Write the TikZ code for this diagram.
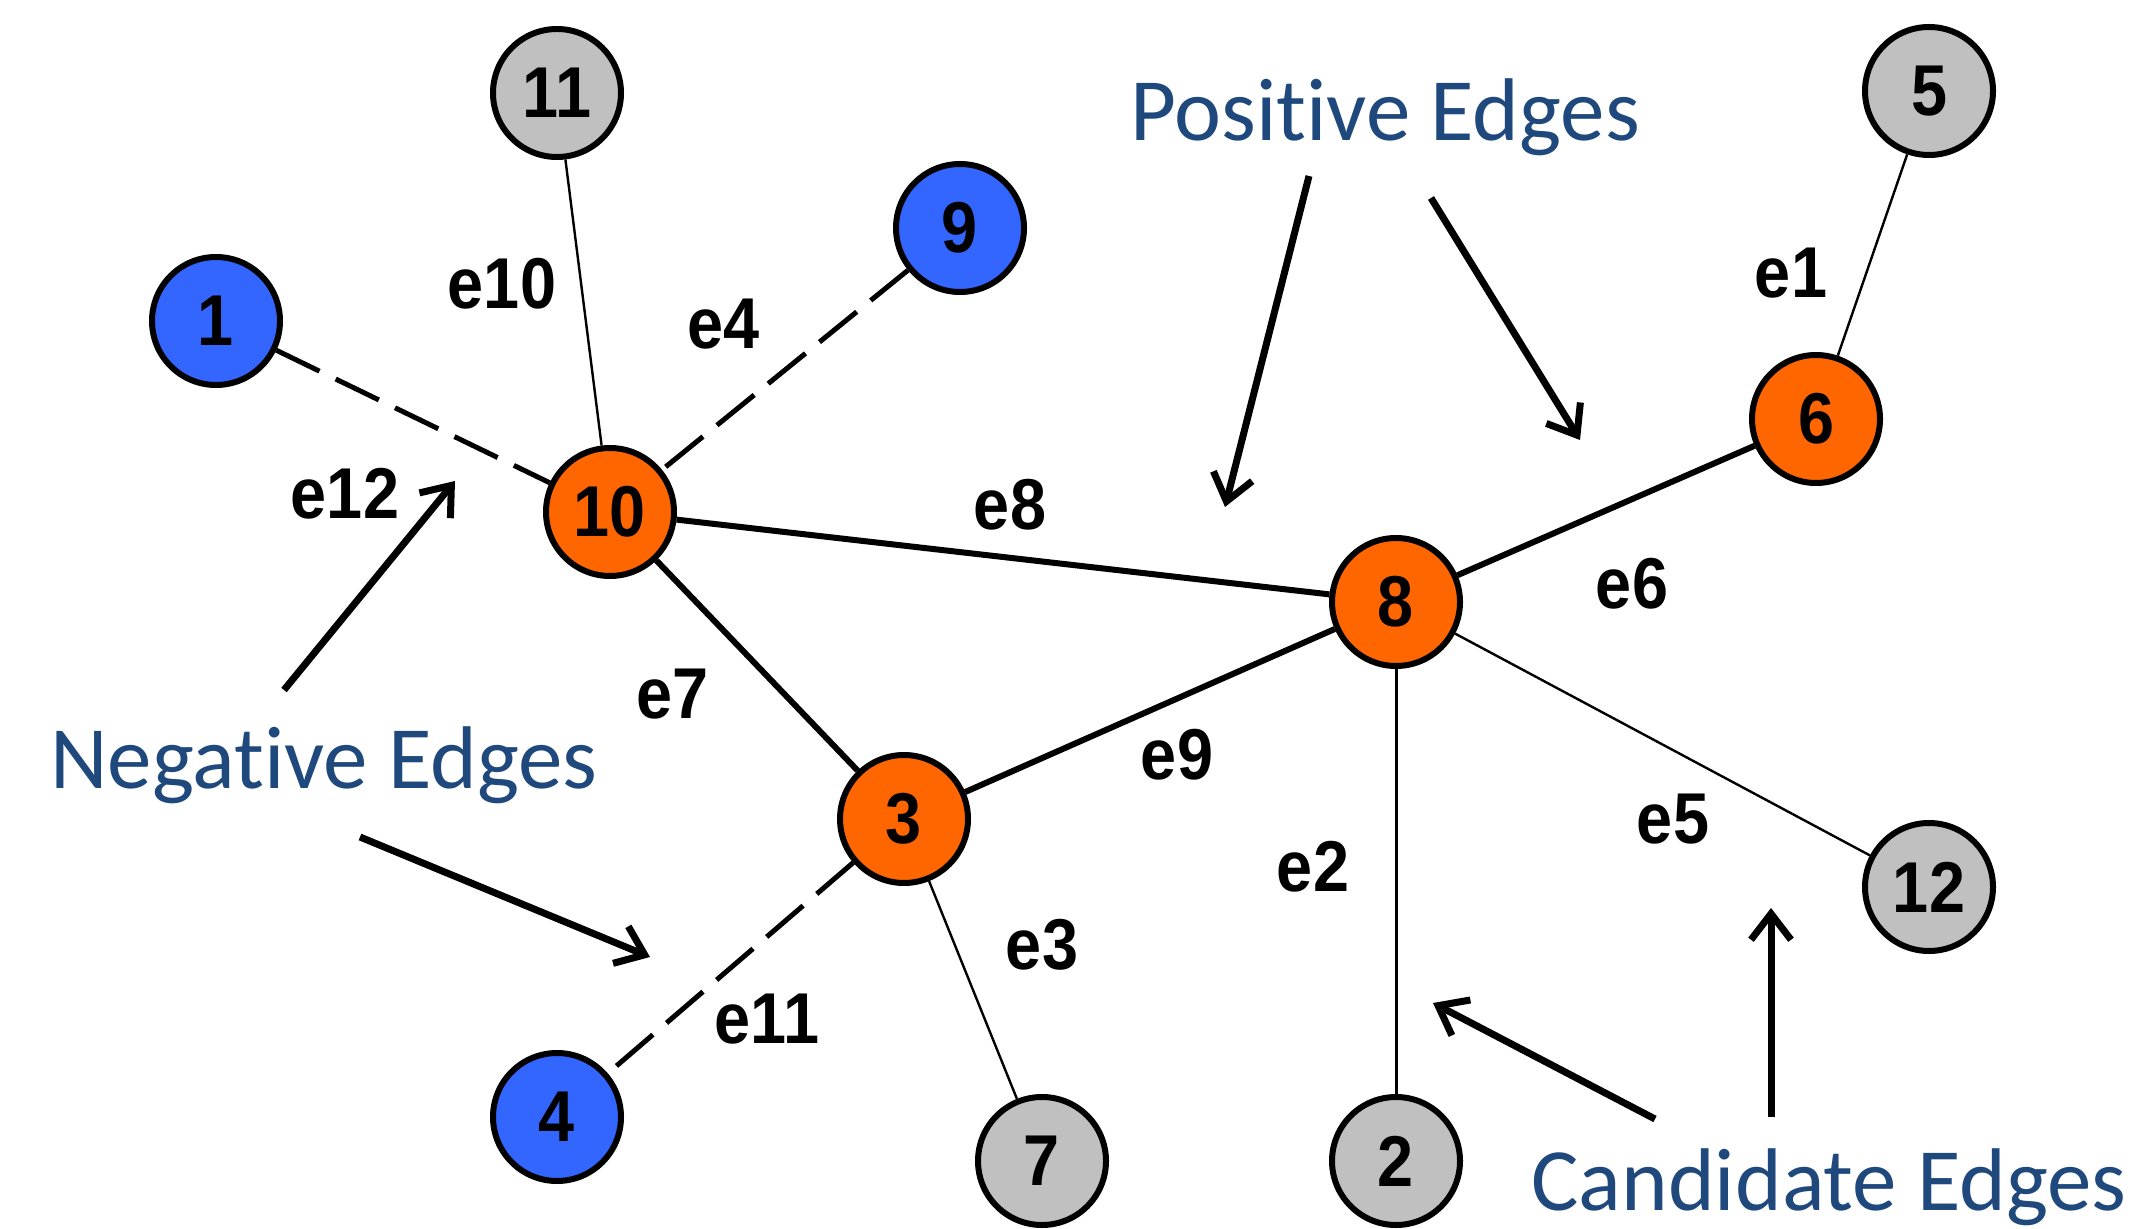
\documentclass[tikz,border=0pt]{standalone}
\usepackage{fontspec}
\usepackage{graphicx}
\setmainfont{Liberation Sans}
\newfontfamily\captionfont[Ligatures=NoCommon]{Carlito}
\usetikzlibrary{arrows.meta}
\definecolor{posorange}{HTML}{FF6600}
\definecolor{negblue}{HTML}{3366FF}
\definecolor{candgray}{HTML}{C0C0C0}
\definecolor{titleblue}{HTML}{1F497D}
\newcommand\narrowtext[1]{\scalebox{0.9}[1]{#1}}

\begin{document}
\begin{tikzpicture}[x=0.5pt,y=-0.5pt,
  vertex/.style={circle, draw=black, line width=3pt, minimum size=64pt,
    inner sep=0pt, font=\fontsize{36}{40}\selectfont\bfseries},
  posnode/.style={vertex, fill=posorange},
  negnode/.style={vertex, fill=negblue},
  candnode/.style={vertex, fill=candgray},
  poslink/.style={line width=3pt},
  candlink/.style={line width=1.2pt},
  neglink/.style={line width=2.5pt, dash pattern=on 24pt off 9pt},
  elabel/.style={inner sep=0pt, font=\fontsize{36}{40}\selectfont\bfseries},
  caption/.style={inner sep=0pt, anchor=base west, text=titleblue,
    font=\captionfont\fontsize{44.5}{50}\selectfont},
  pointer/.style={line width=3.5pt, -{Straight Barb[length=13pt,width=20pt]}}
]
\useasboundingbox (0,0) rectangle (2141,1229);

% vertices
\node[candnode] (n11) at (557,93)   {\narrowtext{11}};
\node[negnode]  (n9)  at (960,228)  {\narrowtext{9}};
\node[negnode]  (n1)  at (216,321)  {\narrowtext{1}};
\node[posnode]  (n10) at (610,512)  {\narrowtext{10}};
\node[candnode] (n5)  at (1929,91)  {\narrowtext{5}};
\node[posnode]  (n6)  at (1816,419) {\narrowtext{6}};
\node[posnode]  (n8)  at (1396,602) {\narrowtext{8}};
\node[posnode]  (n3)  at (904,819)  {\narrowtext{3}};
\node[candnode] (n12) at (1929,887) {\narrowtext{12}};
\node[negnode]  (n4)  at (557,1117) {\narrowtext{4}};
\node[candnode] (n7)  at (1042,1161){\narrowtext{7}};
\node[candnode] (n2)  at (1396,1161){\narrowtext{2}};

% edges
\draw[poslink] (n10) -- (n8);
\draw[poslink] (n10) -- (n3);
\draw[poslink] (n3) -- (n8);
\draw[poslink] (n8) -- (n6);
\draw[candlink] (n11) -- (n10);
\draw[candlink] (n5) -- (n6);
\draw[candlink] (n3) -- (n7);
\draw[candlink, line width=1.5pt] (n8) -- (n2);
\draw[candlink] (n8) -- (n12);
\draw[neglink] (n1) -- (n10);
\draw[neglink] (n9) -- (n10);
\draw[neglink] (n3) -- (n4);

% edge labels
\node[elabel] (l10) at (502,284)  {\narrowtext{e10}};
\node[elabel] (l4)  at (724,324)  {\narrowtext{e4}};
\node[elabel] (l12) at (345,494)  {\narrowtext{e12}};
\node[elabel] (l8)  at (1010,505) {\narrowtext{e8}};
\node[elabel] (l1)  at (1791,273) {\narrowtext{e1}};
\node[elabel] (l6)  at (1632,584) {\narrowtext{e6}};
\node[elabel] (l7)  at (673,694)  {\narrowtext{e7}};
\node[elabel] (l9)  at (1177,755) {\narrowtext{e9}};
\node[elabel] (l3)  at (1042,945) {\narrowtext{e3}};
\node[elabel] (l11) at (767,1019) {\narrowtext{e11}};
\node[elabel] (l2)  at (1313,867) {\narrowtext{e2}};
\node[elabel] (l5)  at (1673,819) {\narrowtext{e5}};

% group captions
\node[caption] (cpos)  at (1130,141)  {Positive Edges};
\node[caption] (cneg)  at (50,788)    {Negative Edges};
\node[caption] (ccand) at (1531,1210) {Candidate Edges};

% pointer ends
\coordinate (pa1) at (1309,176);  \coordinate (pt1) at (1225,507);
\coordinate (pa2) at (1431,198);  \coordinate (pt2) at (1580,440);
\coordinate (na1) at (284,690);   \coordinate (nt1) at (455,481);
\coordinate (na2) at (360,837);   \coordinate (nt2) at (650,957);
\coordinate (ca1) at (1655,1119); \coordinate (ct1) at (1433,1003);
\coordinate (ca2) at (1771,1117); \coordinate (ct2) at (1771,908);

\draw[pointer] (pa1) -- (pt1);
\draw[pointer] (pa2) -- (pt2);
\draw[pointer] (na1) -- (nt1);
\draw[pointer] (na2) -- (nt2);
\draw[pointer] (ca1) -- (ct1);
\draw[pointer] (ca2) -- (ct2);
\end{tikzpicture}
\end{document}
